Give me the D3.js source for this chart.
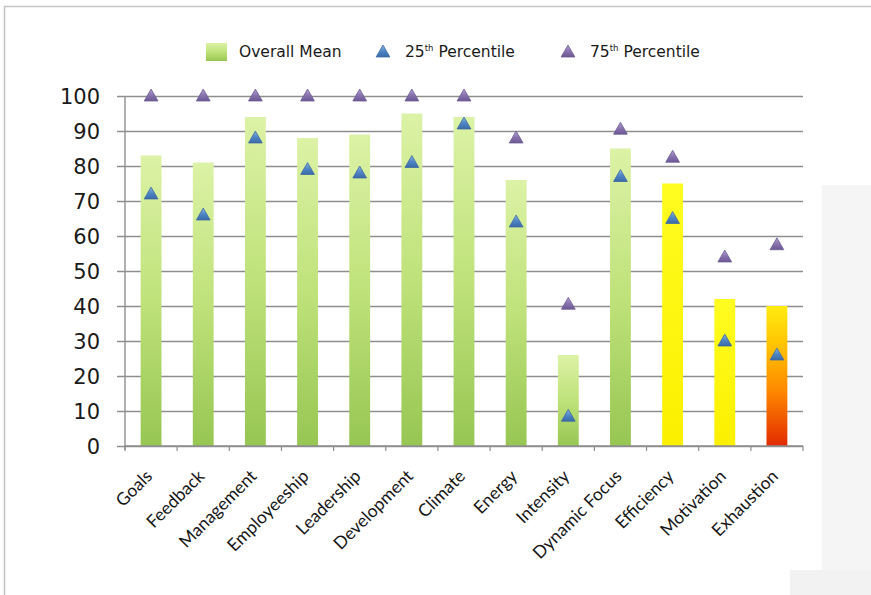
<!DOCTYPE html>
<html>
<head>
<meta charset="utf-8">
<script src="https://cdn.jsdelivr.net/npm/d3@7"></script>
<style>
  html, body { margin: 0; padding: 0; background: #ffffff; }
  svg { display: block; }
</style>
</head>
<body>
<svg id="chart" width="871" height="595"></svg>
<script>
// Scale categories and their summary statistics
const categories = ["Goals", "Feedback", "Management", "Employeeship", "Leadership", "Development",
  "Climate", "Energy", "Intensity", "Dynamic Focus", "Efficiency", "Motivation", "Exhaustion"];
const overallMean = [83, 81, 94, 88, 89, 95, 94, 76, 26, 85, 75, 42, 40];
const percentile25 = [72, 66, 88, 79, 78, 81, 92, 64, 8.5, 77, 65, 30, 26];
const percentile75 = [100, 100, 100, 100, 100, 100, 100, 88, 40.5, 90.5, 82.5, 54, 57.5];
const yTicks = [0, 10, 20, 30, 40, 50, 60, 70, 80, 90, 100];

// Bar paint per category
const barPaint = {
  "Efficiency": "url(#gradYellow)",
  "Motivation": "url(#gradYellow)",
  "Exhaustion": "url(#gradHeat)"
};

const svg = d3.select("#chart");
const W = 871, H = 595;
const plot = { left: 125, right: 803, top: 96, bottom: 446 };

// Frame lines and faint backdrop on the right
svg.append("rect").attr("x", 822).attr("y", 185).attr("width", 49).attr("height", 410).attr("fill", "#f5f5f5");
svg.append("rect").attr("x", 790).attr("y", 570).attr("width", 81).attr("height", 25).attr("fill", "#f2f2f2");
svg.append("rect").attr("x", 25).attr("y", 30).attr("width", 797).attr("height", 540).attr("fill", "#ffffff");
svg.append("line").attr("x1", 4).attr("x2", W).attr("y1", 6.5).attr("y2", 6.5).attr("stroke", "#c4c4c4").attr("stroke-width", 1.5);
svg.append("line").attr("x1", 4.5).attr("x2", 4.5).attr("y1", 6).attr("y2", H).attr("stroke", "#c4c4c4").attr("stroke-width", 1.5);

const defs = svg.append("defs");
function vGrad(id, stops) {
  const g = defs.append("linearGradient").attr("id", id)
    .attr("x1", 0).attr("y1", 0).attr("x2", 0).attr("y2", 1);
  stops.forEach(([o, c]) => g.append("stop").attr("offset", o).attr("stop-color", c));
}
vGrad("gradGreen", [[0, "#dcf2a6"], [0.5, "#bfe27a"], [1, "#97c653"]]);
vGrad("gradYellow", [[0, "#fffc20"], [1, "#fbf000"]]);
vGrad("gradHeat", [[0, "#ffec10"], [0.3, "#ffc000"], [0.6, "#ff8a00"], [1, "#e22a00"]]);
vGrad("gradBlue", [[0, "#8fb3e0"], [0.5, "#4f86c6"], [1, "#3a6aa8"]]);
vGrad("gradPurple", [[0, "#b3a2cf"], [0.5, "#8a73b0"], [1, "#6c5894"]]);

const x = d3.scaleBand().domain(categories).range([plot.left, plot.right])
  .paddingInner(0.6).paddingOuter(0.3);
const y = d3.scaleLinear().domain([0, 100]).range([plot.bottom, plot.top]);

// Horizontal gridlines with outer tick marks on the value axis
const yAxis = d3.axisLeft(y).tickValues(yTicks).tickSize(-(plot.right - plot.left)).tickSizeOuter(0)
  .tickFormat(d3.format("d")).tickPadding(18);
const gy = svg.append("g").attr("transform", `translate(${plot.left},0)`).call(yAxis);
gy.select(".domain").remove();
gy.selectAll(".tick line").attr("stroke", "#8e8e8e").attr("stroke-width", 1.4).attr("x1", -8);
gy.selectAll(".tick text")
  .attr("font-family", "DejaVu Sans, sans-serif").attr("font-size", 21).attr("fill", "#1a1a1a")
  .attr("x", -25).attr("dy", "0.36em");

// Value axis line
svg.append("line").attr("x1", plot.left).attr("x2", plot.left)
  .attr("y1", plot.top).attr("y2", plot.bottom + 4)
  .attr("stroke", "#8e8e8e").attr("stroke-width", 1.4);

// Bars
svg.append("g").selectAll("rect").data(categories).join("rect")
  .attr("x", d => x(d))
  .attr("width", x.bandwidth())
  .attr("y", (d, i) => y(overallMean[i]))
  .attr("height", (d, i) => y(0) - y(overallMean[i]))
  .attr("fill", d => barPaint[d] || "url(#gradGreen)");

// Category axis with ticks between categories
const step = x.step();
const gx = svg.append("g").attr("transform", `translate(0,${plot.bottom})`);
gx.append("line").attr("x1", plot.left).attr("x2", plot.right).attr("y1", 0).attr("y2", 0)
  .attr("stroke", "#8e8e8e").attr("stroke-width", 1.4);
gx.selectAll("line.sep").data(d3.range(categories.length + 1)).join("line")
  .attr("class", "sep")
  .attr("x1", i => plot.left + i * step).attr("x2", i => plot.left + i * step)
  .attr("y1", 0).attr("y2", 5)
  .attr("stroke", "#8e8e8e").attr("stroke-width", 1.2);
gx.selectAll("text").data(categories).join("text")
  .attr("transform", d => `translate(${x(d) + x.bandwidth() / 2 - 2},${27}) rotate(-45)`)
  .attr("text-anchor", "end")
  .attr("dy", "0.35em")
  .attr("font-family", "Lato, sans-serif").attr("font-size", 17.5).attr("fill", "#161616")
  .text(d => d);

// Percentile markers
const tri = d3.symbol().type(d3.symbolTriangle).size(82);
function markers(values, fill, stroke) {
  svg.append("g").selectAll("path").data(categories).join("path")
    .attr("d", tri)
    .attr("transform", (d, i) => `translate(${x(d) + x.bandwidth() / 2},${y(values[i]) + 1})`)
    .attr("fill", fill).attr("stroke", stroke).attr("stroke-width", 0.8);
}
markers(percentile75, "url(#gradPurple)", "#6b5a90");
markers(percentile25, "url(#gradBlue)", "#3d6aa3");

// Legend
const legend = svg.append("g").attr("font-family", "DejaVu Sans, sans-serif").attr("font-size", 15.5).attr("fill", "#1a1a1a");
legend.append("rect").attr("x", 206).attr("y", 43).attr("width", 21).attr("height", 18)
  .attr("fill", "url(#gradGreen)");
legend.append("text").attr("x", 239).attr("y", 57).text("Overall Mean");
legend.append("path").attr("d", tri).attr("transform", "translate(383,53)")
  .attr("fill", "url(#gradBlue)").attr("stroke", "#3d6aa3").attr("stroke-width", 0.8);
const t25 = legend.append("text").attr("x", 405).attr("y", 57);
t25.append("tspan").text("25");
t25.append("tspan").attr("dy", -6).attr("font-size", 8.5).text("th");
t25.append("tspan").attr("dy", 6).text(" Percentile");
legend.append("path").attr("d", tri).attr("transform", "translate(568,53)")
  .attr("fill", "url(#gradPurple)").attr("stroke", "#6b5a90").attr("stroke-width", 0.8);
const t75 = legend.append("text").attr("x", 590).attr("y", 57);
t75.append("tspan").text("75");
t75.append("tspan").attr("dy", -6).attr("font-size", 8.5).text("th");
t75.append("tspan").attr("dy", 6).text(" Percentile");
</script>
</body>
</html>
